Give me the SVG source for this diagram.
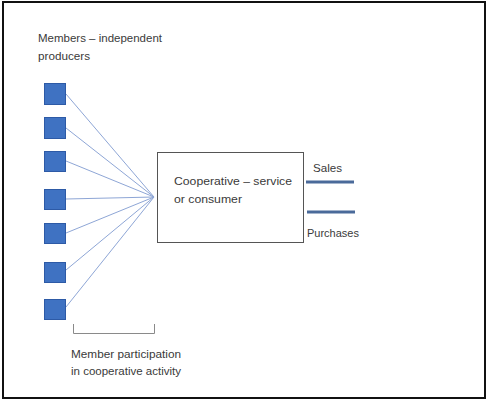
<svg xmlns="http://www.w3.org/2000/svg" width="487" height="400" viewBox="0 0 487 400">
<style>
.t{font-family:"Liberation Sans",Arial,sans-serif;font-size:11px;fill:#3a3a3a}
.m{fill:#3f72c2;stroke:#2d5aa6;stroke-width:1}
.c{stroke:#8ea6d6;stroke-width:1;fill:none}
.f{stroke:#4a6a9a;stroke-width:3;fill:none}
</style>
<rect x="0" y="0" width="487" height="400" fill="#fff"/>
<rect x="3" y="2" width="482" height="396" fill="none" stroke="#111" stroke-width="2"/>
<text class="t" x="38" y="42" textLength="124" lengthAdjust="spacingAndGlyphs">Members – independent</text>
<text class="t" x="38" y="60" textLength="52" lengthAdjust="spacingAndGlyphs">producers</text>
<g id="connectors">
<line class="c" x1="66" y1="94" x2="154" y2="197"/>
<line class="c" x1="66" y1="128" x2="154" y2="197"/>
<line class="c" x1="66" y1="161" x2="154" y2="197"/>
<line class="c" x1="66" y1="199" x2="154" y2="197"/>
<line class="c" x1="66" y1="233" x2="154" y2="197"/>
<line class="c" x1="66" y1="270" x2="154" y2="197"/>
<line class="c" x1="66" y1="307" x2="154" y2="197"/>
<line class="f" x1="306" y1="182" x2="354" y2="182"/>
<line class="f" x1="307" y1="212" x2="355" y2="212"/>
</g>
<g id="m1"><rect class="m" x="44.5" y="83.5" width="21" height="21"/></g>
<g id="m2"><rect class="m" x="44.5" y="117.5" width="21" height="21"/></g>
<g id="m3"><rect class="m" x="44.5" y="151.5" width="21" height="20"/></g>
<g id="m4"><rect class="m" x="44.5" y="189.5" width="21" height="20"/></g>
<g id="m5"><rect class="m" x="44.5" y="223.5" width="21" height="20"/></g>
<g id="m6"><rect class="m" x="44.5" y="262.5" width="21" height="20"/></g>
<g id="m7"><rect class="m" x="44.5" y="299.5" width="21" height="20"/></g>
<g id="coop">
<rect x="157.5" y="152.5" width="146" height="90" fill="#fff" stroke="#555" stroke-width="1"/>
<text class="t" x="174" y="185" textLength="118" lengthAdjust="spacingAndGlyphs">Cooperative – service</text>
<text class="t" x="174" y="203" textLength="68" lengthAdjust="spacingAndGlyphs">or consumer</text>
</g>
<g id="sales"><text class="t" x="313" y="172" textLength="29" lengthAdjust="spacingAndGlyphs">Sales</text></g>
<g id="purchases"><text class="t" x="307" y="237" textLength="52" lengthAdjust="spacingAndGlyphs">Purchases</text></g>
<g id="bracket">
<path d="M73.5,324 V333.5 H154.5 V324" fill="none" stroke="#8a8a8a" stroke-width="1"/>
<text class="t" x="71" y="358" textLength="110" lengthAdjust="spacingAndGlyphs">Member participation</text>
<text class="t" x="71" y="375" textLength="110" lengthAdjust="spacingAndGlyphs">in cooperative activity</text>
</g>
</svg>
